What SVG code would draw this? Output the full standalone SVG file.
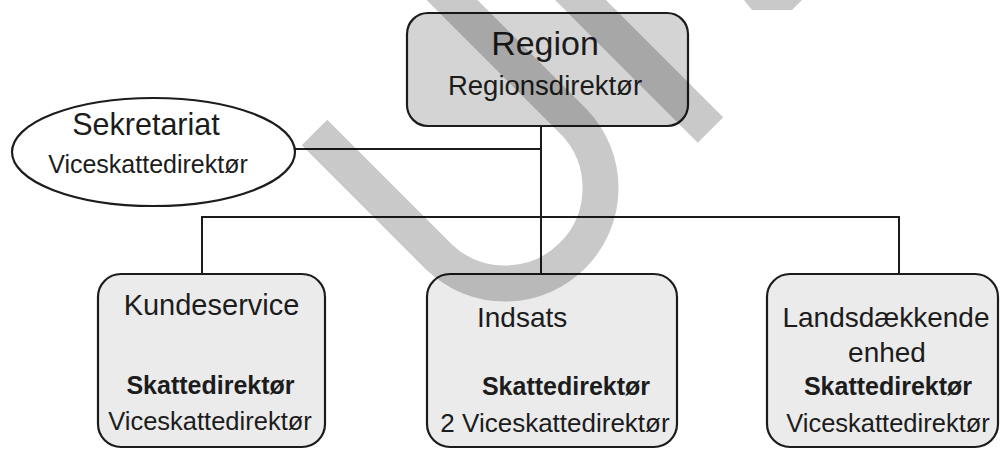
<svg xmlns="http://www.w3.org/2000/svg" width="1003" height="450" viewBox="0 0 1003 450">
  <style>
    .box { stroke: #1c1c1c; stroke-width: 2.2; }
    .top { fill: #d4d4d4; }
    .low { fill: #ebebeb; }
    .line { fill: none; stroke: #1c1c1c; stroke-width: 2; }
    text { font-family: "Liberation Sans", Arial, sans-serif; fill: #1c1c1c; text-anchor: middle; }
    .b { font-weight: bold; }
    .wm { fill: none; stroke: #000; stroke-opacity: 0.21; stroke-width: 36; stroke-linecap: butt; }
  </style>
  <rect width="1003" height="450" fill="#ffffff"/>

  <g id="connectors">
    <path class="line" d="M541,126 V274"/>
    <path class="line" d="M295,149 H541"/>
    <path class="line" d="M202,274 V217 H899 V274"/>
  </g>

  <g id="region">
    <rect class="box top" x="407" y="13" width="281" height="113" rx="21"/>
    <text x="545" y="55" font-size="34">Region</text>
    <text x="545" y="95" font-size="27.5">Regionsdirektør</text>
  </g>

  <g id="sekretariat">
    <ellipse class="box" cx="153.5" cy="152" rx="141.5" ry="54" fill="#ffffff"/>
    <text x="146" y="135" font-size="30.5">Sekretariat</text>
    <text x="148" y="173" font-size="25">Viceskattedirektør</text>
  </g>

  <g id="kundeservice">
    <rect class="box low" x="98" y="274" width="227" height="173" rx="23"/>
    <text x="211.5" y="315" font-size="29">Kundeservice</text>
    <text class="b" x="210.5" y="394" font-size="25">Skattedirektør</text>
    <text x="210" y="430" font-size="25.5">Viceskattedirektør</text>
  </g>

  <g id="indsats">
    <rect class="box low" x="427" y="274" width="250" height="173" rx="23"/>
    <text x="477" y="327" font-size="28" style="text-anchor:start">Indsats</text>
    <text class="b" x="566" y="395" font-size="25">Skattedirektør</text>
    <text x="555" y="432" font-size="26">2 Viceskattedirektør</text>
  </g>

  <g id="landsdaekkende">
    <rect class="box low" x="767" y="274" width="231" height="173" rx="23"/>
    <text x="886" y="327" font-size="28">Landsdækkende</text>
    <text x="887" y="362" font-size="28">enhed</text>
    <text class="b" x="888" y="395" font-size="25">Skattedirektør</text>
    <text x="888" y="432" font-size="25.5">Viceskattedirektør</text>
  </g>

  <g id="watermark">
    <path class="wm" d="M314.5,132.5 L439.5,257.5 A95.5,95.5 0 0 0 574.5,122.5 L424.5,-27.5"/>
    <path class="wm" d="M710.5,130 L560,-20.5"/>
    <polygon points="744,0 802,0 792,10 752,10" fill="#000" fill-opacity="0.21"/>
  </g>
</svg>
